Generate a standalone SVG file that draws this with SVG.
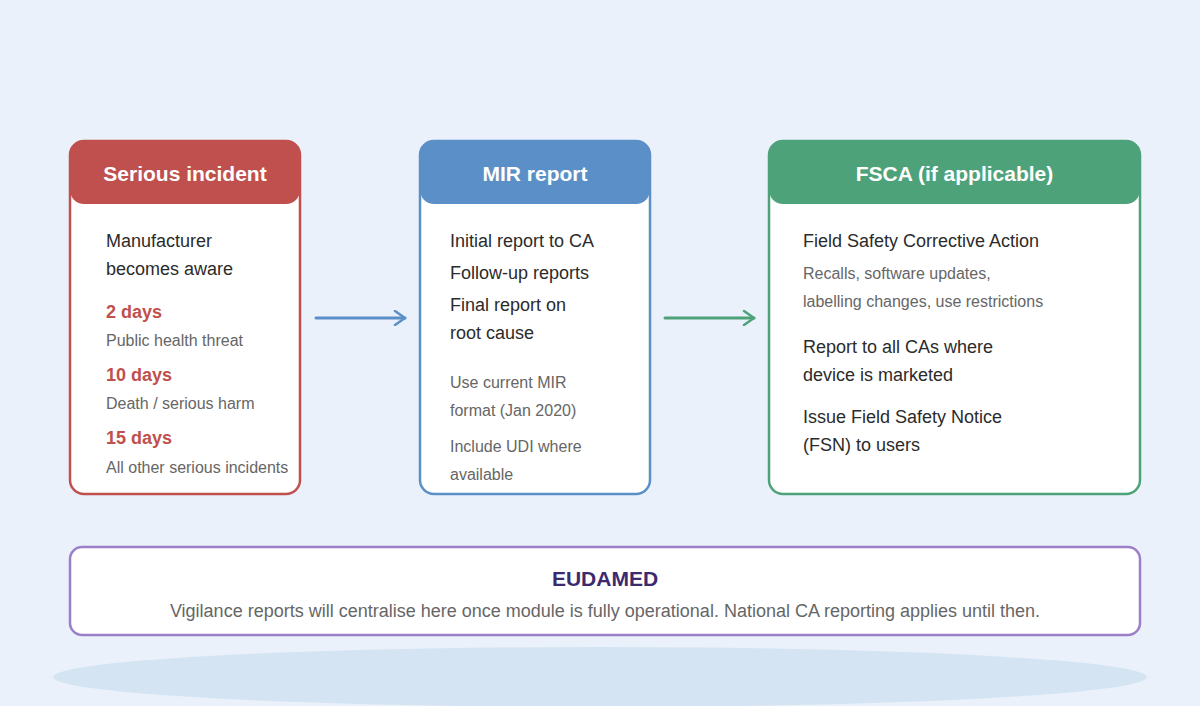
<svg xmlns="http://www.w3.org/2000/svg" width="1200" height="706" viewBox="0 0 1200 706">
<defs>
<style>
.t{font-family:"Liberation Sans",Arial,sans-serif}
.hd{font-family:"Liberation Sans",Arial,sans-serif;font-size:21px;font-weight:bold;fill:#fff;text-anchor:middle}
.m{font-family:"Liberation Sans",Arial,sans-serif;font-size:18px;fill:#2b2b2b}
.s{font-family:"Liberation Sans",Arial,sans-serif;font-size:16px;fill:#666}
.d{font-family:"Liberation Sans",Arial,sans-serif;font-size:18px;font-weight:bold;fill:#c0504d}
.card{fill:#fff;stroke-width:2.5}
</style>
<marker id="ab" viewBox="0 0 14 16" refX="12" refY="8" markerWidth="14" markerHeight="16" markerUnits="userSpaceOnUse" orient="auto"><path d="M2,1 L12,8 L2,15" fill="none" stroke="#5b8fc7" stroke-width="2.5" stroke-linecap="round" stroke-linejoin="round"/></marker>
<marker id="ag" viewBox="0 0 14 16" refX="12" refY="8" markerWidth="14" markerHeight="16" markerUnits="userSpaceOnUse" orient="auto"><path d="M2,1 L12,8 L2,15" fill="none" stroke="#4ea27a" stroke-width="2.5" stroke-linecap="round" stroke-linejoin="round"/></marker>
</defs>
<rect width="1200" height="706" fill="#eaf1fb"/>
<ellipse cx="600" cy="677" rx="547" ry="30" fill="#d5e4f3"/>

<g id="serious-incident">
<rect class="card" x="70" y="141" width="230" height="353" rx="14" stroke="#c0504d"/>
<rect x="70" y="141" width="230" height="63" rx="14" fill="#c0504d"/>
<text class="hd" x="185" y="181">Serious incident</text>
<text class="m" x="106" y="247">Manufacturer</text>
<text class="m" x="106" y="275">becomes aware</text>
<text class="d" x="106" y="318">2 days</text>
<text class="s" x="106" y="346">Public health threat</text>
<text class="d" x="106" y="381">10 days</text>
<text class="s" x="106" y="409">Death / serious harm</text>
<text class="d" x="106" y="444">15 days</text>
<text class="s" x="106" y="473">All other serious incidents</text>
</g>

<g id="mir-report">
<rect class="card" x="420" y="141" width="230" height="353" rx="14" stroke="#5b8fc7"/>
<rect x="420" y="141" width="230" height="63" rx="14" fill="#5b8fc7"/>
<text class="hd" x="535" y="181">MIR report</text>
<text class="m" x="450" y="247">Initial report to CA</text>
<text class="m" x="450" y="279">Follow-up reports</text>
<text class="m" x="450" y="311">Final report on</text>
<text class="m" x="450" y="339">root cause</text>
<text class="s" x="450" y="388">Use current MIR</text>
<text class="s" x="450" y="416">format (Jan 2020)</text>
<text class="s" x="450" y="452">Include UDI where</text>
<text class="s" x="450" y="480">available</text>
</g>

<g id="fsca">
<rect class="card" x="769" y="141" width="371" height="353" rx="14" stroke="#4ea27a"/>
<rect x="769" y="141" width="371" height="63" rx="14" fill="#4ea27a"/>
<text class="hd" x="954.500" y="181">FSCA (if applicable)</text>
<text class="m" x="803" y="247">Field Safety Corrective Action</text>
<text class="s" x="803" y="279">Recalls, software updates,</text>
<text class="s" x="803" y="307">labelling changes, use restrictions</text>
<text class="m" x="803" y="353">Report to all CAs where</text>
<text class="m" x="803" y="381">device is marketed</text>
<text class="m" x="803" y="423">Issue Field Safety Notice</text>
<text class="m" x="803" y="451">(FSN) to users</text>
</g>

<g id="eudamed">
<rect class="card" x="70" y="547" width="1070" height="88" rx="12" stroke="#9b7fc8"/>
<text class="t" x="605" y="586" font-size="21" font-weight="bold" fill="#3d2a6e" text-anchor="middle">EUDAMED</text>
<text class="t" x="605" y="617" font-size="18" fill="#666" text-anchor="middle">Vigilance reports will centralise here once module is fully operational. National CA reporting applies until then.</text>
</g>

<g id="connectors" fill="none" stroke-width="3" stroke-linecap="round">
<line x1="316" y1="318" x2="405" y2="318" stroke="#5b8fc7" marker-end="url(#ab)"/>
<line x1="665" y1="318" x2="754" y2="318" stroke="#4ea27a" marker-end="url(#ag)"/>
</g>
</svg>
